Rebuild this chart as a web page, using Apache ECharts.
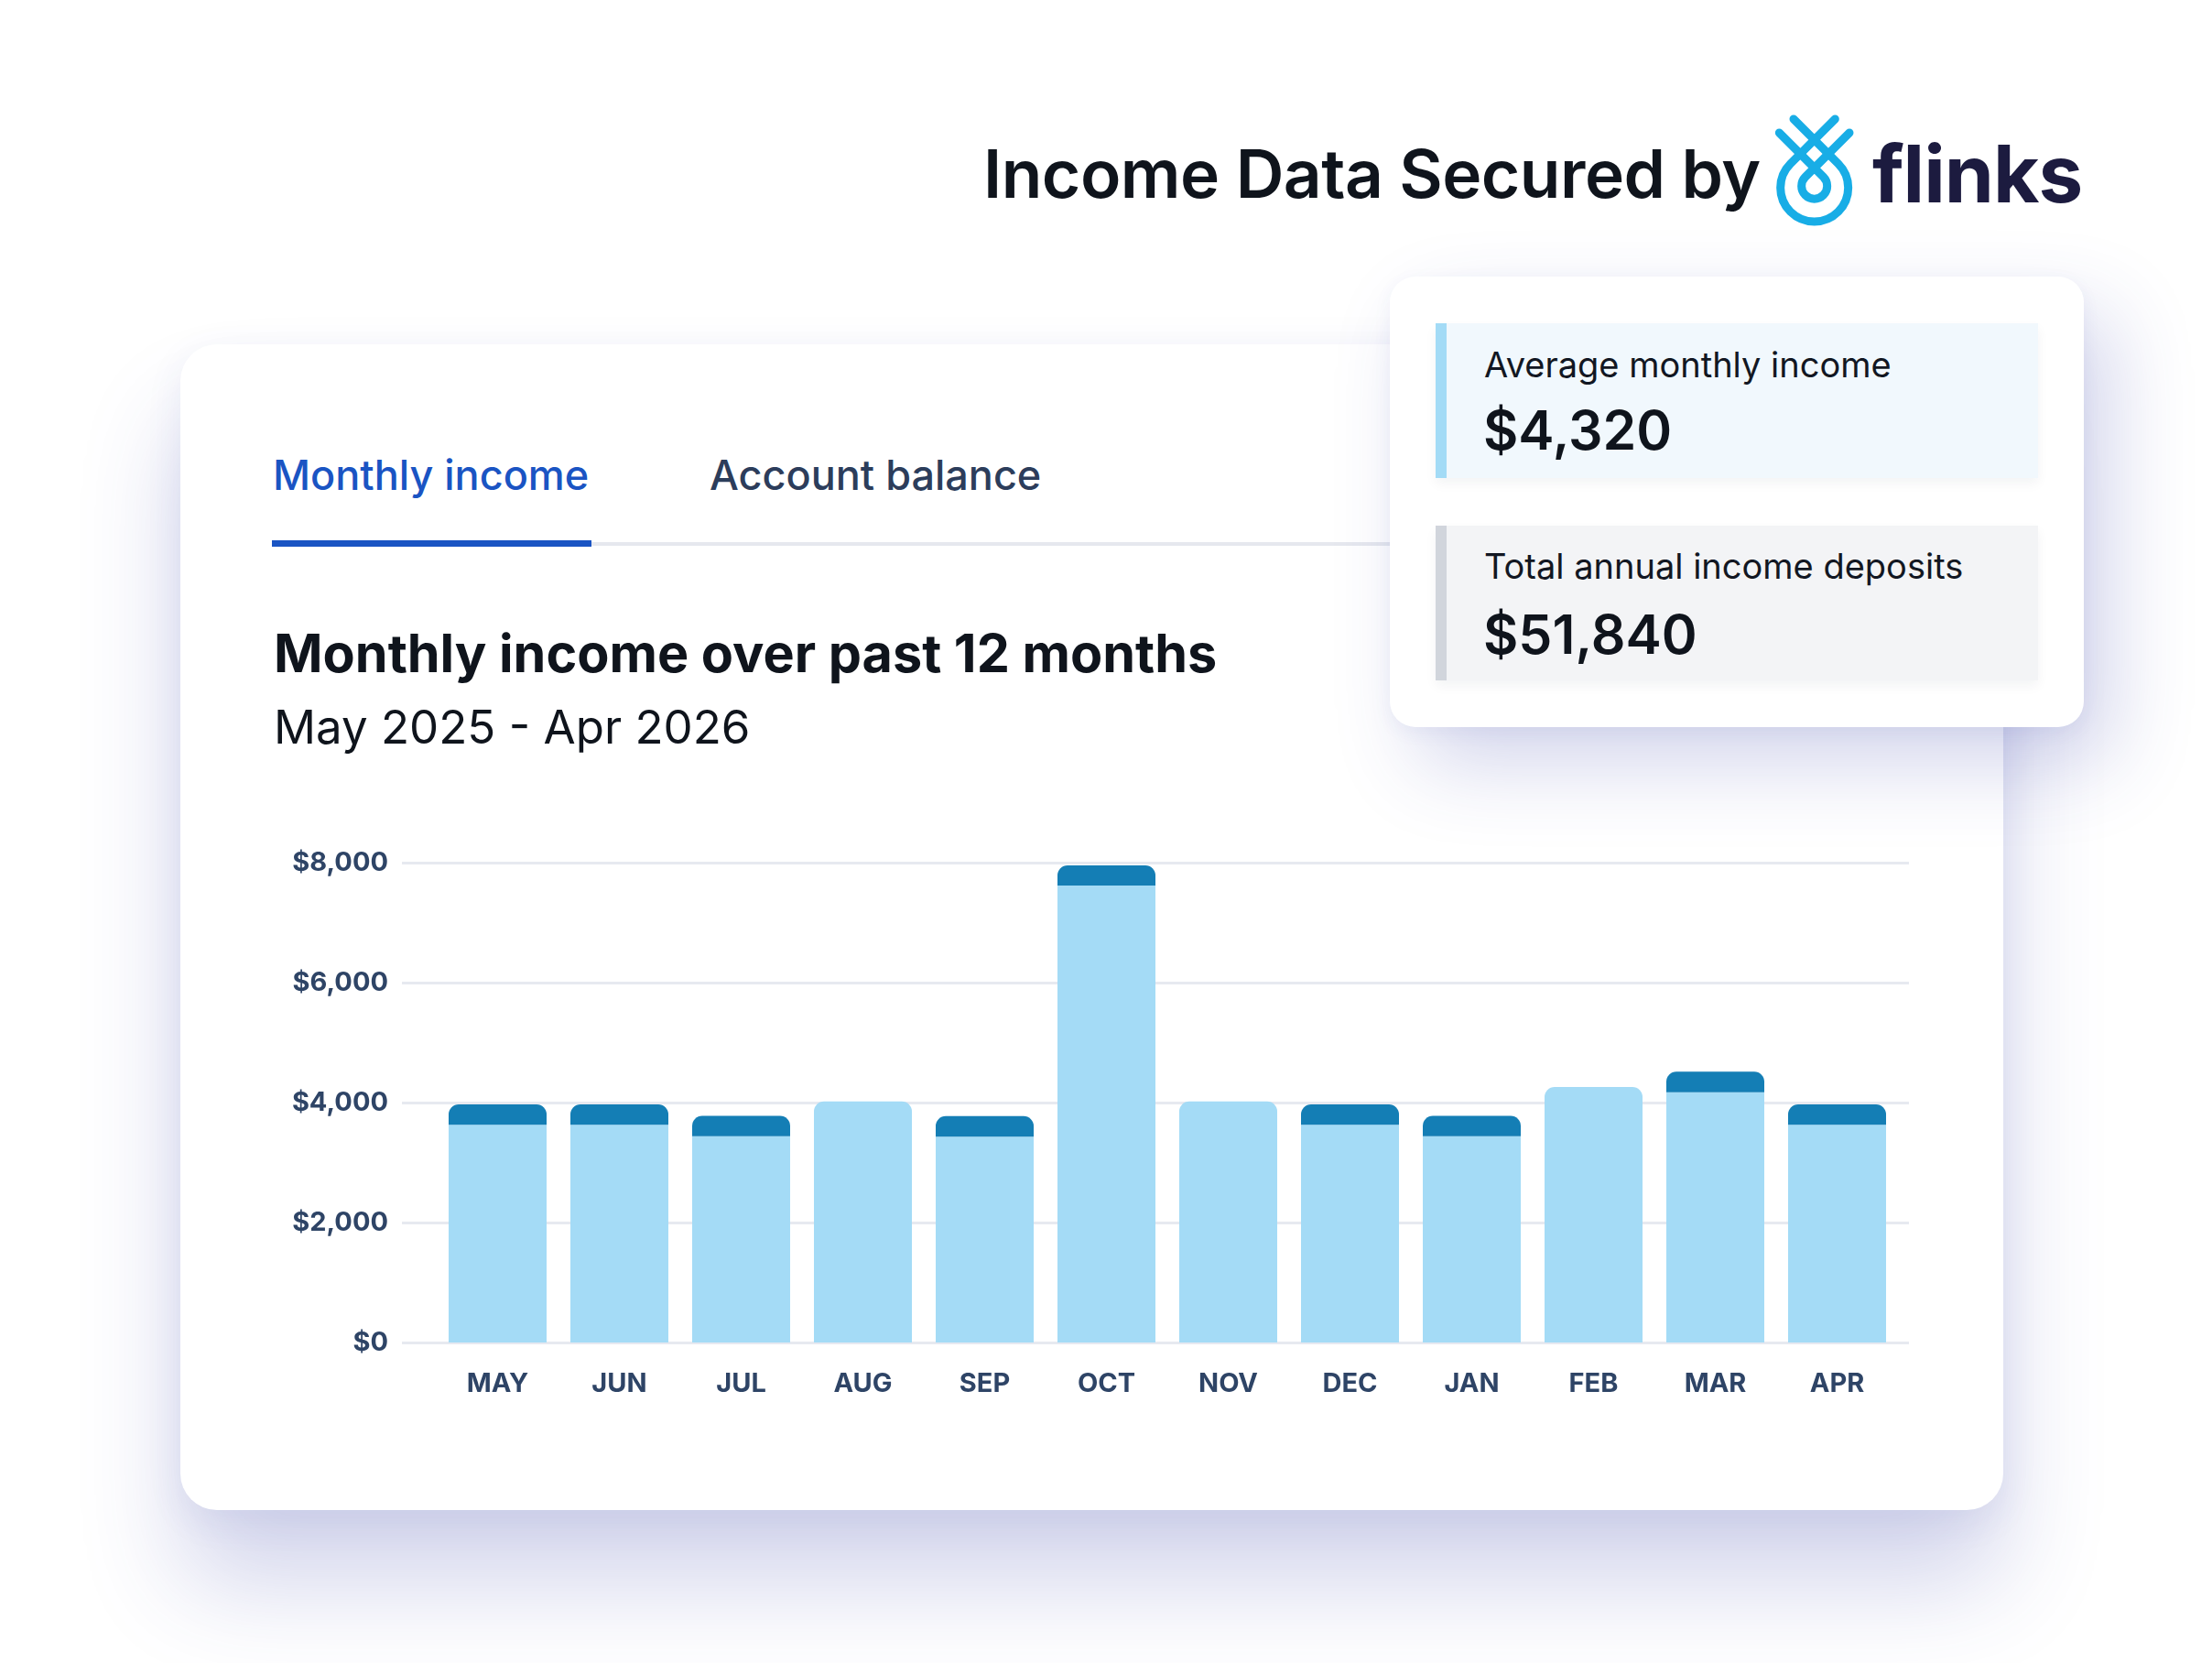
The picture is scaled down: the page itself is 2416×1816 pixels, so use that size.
<!DOCTYPE html>
<html>
<head>
<meta charset="utf-8">
<title>Income Data Secured by flinks</title>
<script src="https://cdn.jsdelivr.net/npm/echarts@6.0.0/dist/echarts.min.js"></script>
<style>
  html, body { margin: 0; padding: 0; }
  body {
    width: 2416px; height: 1816px; position: relative; overflow: hidden;
    background: #ffffff; font-family: Inter, "Noto Sans", sans-serif; color: #0f141c;
  }
  .abs { position: absolute; line-height: 1; white-space: nowrap; }
  .card {
    position: absolute; background: #fff;
  }
  .main-card {
    left: 197px; top: 376px; width: 1991px; height: 1273px; border-radius: 40px;
    box-shadow: 0 80px 110px rgba(55, 65, 170, 0.22), 0 12px 40px rgba(55, 65, 170, 0.08);
  }
  .stats-card {
    left: 1518px; top: 302px; width: 758px; height: 492px; border-radius: 28px;
    box-shadow: 30px 40px 90px rgba(55, 65, 170, 0.22), 0 6px 20px rgba(55, 65, 170, 0.06);
  }
  .stat-box { position: absolute; left: 50px; width: 646px; height: 169px; box-shadow: 0 6px 12px rgba(20, 30, 60, 0.05); }
  .stat-box .label { position: absolute; left: 41px; font-size: 38px; line-height: 1; color: #121722; }
  .stat-box .value { position: absolute; left: 40px; font-size: 59px; line-height: 1; font-weight: 600; color: #0f141c; }
  #chart { position: absolute; left: 300px; top: 880px; width: 1850px; height: 700px; }
</style>
</head>
<body>

<div class="abs" style="left:1074px; top:153px; font-size:73px; font-weight:600; letter-spacing:-0.5px; color:#0f141c;">Income Data Secured by</div>
<svg class="abs" style="left:1925px; top:115px;" width="115" height="145" viewBox="0 0 345 435">
  <g fill="none" stroke="#18ade6" stroke-width="27" stroke-linecap="round" stroke-linejoin="round">
    <path d="M102,45 L248.5,191.5 A111,111 0 1 1 91.5,191.5 L238,45"/>
    <path d="M55,90 L199.7,234.7 A42,42 0 1 1 140.3,234.7 L285,90"/>
  </g>
</svg>
<div class="abs" style="left:2045px; top:146px; font-size:87px; font-weight:700; letter-spacing:-1px; color:#1c1b3f;">flinks</div>

<div class="card main-card"></div>

<div class="abs" style="left:298px; top:496px; font-size:45px; font-weight:500; color:#1a54c3;">Monthly income</div>
<div class="abs" style="left:775px; top:496px; font-size:45px; font-weight:500; color:#2c3d5b;">Account balance</div>
<div class="abs" style="left:297px; top:590px; width:349px; height:7px; background:#1a54c3;"></div>
<div class="abs" style="left:646px; top:592px; width:900px; height:4px; background:#e6e8ee;"></div>

<div class="abs" style="left:299px; top:685px; font-size:57.5px; font-weight:700; color:#0f141c;">Monthly income over past 12 months</div>
<div class="abs" style="left:299px; top:768px; font-size:51px; font-weight:400; color:#0f141c;">May 2025 - Apr 2026</div>

<div class="card stats-card">
  <div class="stat-box" style="top:51px; background:#f1f8fd; border-left:12px solid #a3dbf6;">
    <div class="label" style="top:26px;">Average monthly income</div>
    <div class="value" style="top:87px;">$4,320</div>
  </div>
  <div class="stat-box" style="top:272px; background:#f3f4f6; border-left:12px solid #d1d5dc;">
    <div class="label" style="top:25px;">Total annual income deposits</div>
    <div class="value" style="top:89px;">$51,840</div>
  </div>
</div>

<div id="chart"></div>

<script>
  // months shown on the x axis
  const months = ['MAY', 'JUN', 'JUL', 'AUG', 'SEP', 'OCT', 'NOV', 'DEC', 'JAN', 'FEB', 'MAR', 'APR'];
  // light part of each bar (regular deposits)
  const regularIncome = [3630, 3630, 3440, 4020, 3430, 7620, 4020, 3630, 3440, 4260, 4170, 3630];
  // dark cap on top of each bar (other deposits)
  const otherIncome = [340, 340, 340, 0, 345, 335, 0, 340, 340, 0, 345, 340];
  // y axis ticks
  const yTicks = [0, 2000, 4000, 6000, 8000];

  const labelColor = '#2e4466';
  const yMin = yTicks[0];
  const yMax = yTicks[yTicks.length - 1];
  const yStep = yTicks[1] - yTicks[0];
  const radius = 11;

  const chart = echarts.init(document.getElementById('chart'), null, { renderer: 'canvas' });

  chart.setOption({
    animation: false,
    grid: [
      { left: 139, top: 62, width: 1646, height: 524 },
      { left: 177, top: 62, width: 1596, height: 524 }
    ],
    xAxis: [
      { gridIndex: 0, type: 'value', min: 0, max: 1, show: false },
      {
        gridIndex: 1,
        type: 'category',
        data: months,
        axisLine: { show: false },
        axisTick: { show: false },
        axisLabel: {
          margin: 31,
          color: labelColor,
          fontFamily: 'Inter',
          fontWeight: 700,
          fontSize: 29
        }
      }
    ],
    yAxis: [
      {
        gridIndex: 0,
        type: 'value',
        min: yMin,
        max: yMax,
        interval: yStep,
        axisLine: { show: false },
        axisTick: { show: false },
        splitLine: { lineStyle: { color: '#e7e9f0', width: 3 } },
        axisLabel: {
          margin: 15,
          color: labelColor,
          fontFamily: 'Inter',
          fontWeight: 700,
          fontSize: 29,
          padding: [8, 0, 0, 0],
          formatter: v => '$' + v.toLocaleString('en-US')
        }
      },
      { gridIndex: 1, type: 'value', min: yMin, max: yMax, interval: yStep, show: false }
    ],
    series: [
      {
        name: 'Regular income',
        type: 'bar',
        xAxisIndex: 1,
        yAxisIndex: 1,
        stack: 'income',
        barWidth: 107,
        itemStyle: { color: '#a4dbf6' },
        data: regularIncome.map((v, i) => ({
          value: v,
          itemStyle: { borderRadius: otherIncome[i] ? 0 : [radius, radius, 0, 0] }
        }))
      },
      {
        name: 'Other income',
        type: 'bar',
        xAxisIndex: 1,
        yAxisIndex: 1,
        stack: 'income',
        barWidth: 107,
        itemStyle: { color: '#147eb5', borderRadius: [radius, radius, 0, 0] },
        data: otherIncome
      }
    ]
  });
</script>
</body>
</html>
